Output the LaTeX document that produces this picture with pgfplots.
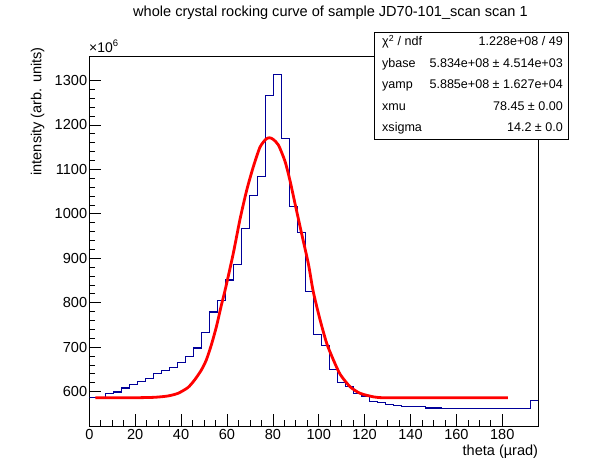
\documentclass[border=0pt]{standalone}
\usepackage{fontspec}
\setmainfont{Liberation Sans}
\usepackage{pgfplots}
\pgfplotsset{compat=1.18}
\definecolor{histblue}{RGB}{0,0,153}
\definecolor{fitred}{RGB}{255,0,0}
\newcommand{\lbl}{\fontsize{14.6}{17}\selectfont}
\newcommand{\stat}{\fontsize{12.6}{14}\selectfont}
\begin{document}
\begin{tikzpicture}[x=1bp,y=1bp]
\useasboundingbox (0,0) rectangle (598,474);
\begin{axis}[
  at={(89.3bp,48bp)}, anchor=south west,
  scale only axis, width=449bp, height=370bp,
  xmin=0, xmax=195.7, ymin=522.4, ymax=1355.1,
  xtick={0,20,...,180}, minor x tick num=3,
  ytick={600,700,...,1300}, minor y tick num=4,
  tick align=inside, tick pos=left,
  major tick length=12bp, minor tick length=6bp,
  tick style={black, line width=0.7bp},
  axis line style={black, line width=0.9bp},
  ticklabel style={font=\lbl},
  yticklabel style={inner xsep=2bp},
  /pgf/number format/assume math mode=true,
  /pgf/number format/1000 sep={},
  clip=true,
]
\addplot[histblue, line width=1.1bp, const plot mark left] coordinates {
(0,586) (3.493,587) (6.986,595) (10.479,599) (13.972,608) (17.465,615)
(20.958,622) (24.451,630) (27.944,640) (31.437,647) (34.93,655) (38.423,665)
(41.916,678) (45.409,698) (48.902,732) (52.395,779) (55.888,804) (59.381,851)
(62.874,885) (66.367,966) (69.86,1042) (73.353,1083) (76.846,1267) (80.339,1314)
(83.832,1170) (87.325,1017) (90.818,957) (94.311,825) (97.804,728) (101.297,703)
(104.79,649) (108.283,620) (111.776,611) (115.269,595) (118.762,590) (122.255,578)
(125.748,575) (129.241,570) (132.734,568) (136.227,566) (139.72,566) (143.213,566)
(146.706,563) (150.199,563) (153.692,561) (157.185,561) (160.678,561) (164.171,561)
(167.664,561) (171.157,561) (174.65,561) (178.143,561) (181.636,561) (185.129,561)
(188.622,561) (192.115,579) (195.7,579)
};
\addplot[fitred, line width=2.8bp, smooth, tension=0.4] coordinates {
(2.6,586) (12,586) (20,586) (28.5,587) (34.3,590) (38.7,596) (43,609) (45.9,626)
(48.8,648) (51,671) (53.2,705) (55.4,746) (57.5,793) (59.5,835) (62.8,912)
(65.7,988) (68.6,1053) (71.5,1106) (74.4,1150) (77,1168) (78.5,1171) (80,1168) (82.4,1155)
(85.3,1118) (87.5,1074) (89.7,1022) (92.6,954) (95.5,887) (97.6,825)
(100.6,761) (103.5,708) (106.4,671) (109.3,639) (113.6,611) (118,596)
(123.8,588) (128.2,586) (140,586) (160,586) (182.4,586)
};
\end{axis}
% title
\node[font=\lbl] at (330.5,461) {whole crystal rocking curve of sample JD70-101\_scan scan 1};
% exponent
\node[font=\fontsize{14}{16}\selectfont, anchor=base west, inner sep=0pt] at (89,421) {×10\raisebox{0.45em}{\fontsize{9.5}{11}\selectfont 6}};
% axis titles
\node[font=\lbl, rotate=90, anchor=east, inner sep=0pt] at (37.7,427) {intensity (arb. units)};
\node[font=\lbl, anchor=east, inner sep=0pt] at (538.3,22) {theta (µrad)};
% stats box
\draw[black, line width=0.9bp, fill=white] (374,442) rectangle (568,335);
\foreach \yy/\a/\b in {431/{χ\textsuperscript{2} / ndf}/{1.228e+08 / 49},
                        409.5/{ybase}/{5.834e+08 ± 4.514e+03},
                        388/{yamp}/{5.885e+08 ± 1.627e+04},
                        366.5/{xmu}/{78.45 ± 0.00},
                        345/{xsigma}/{14.2 ± 0.0}} {
  \node[font=\stat, anchor=mid west, inner sep=0pt] at (382,\yy) {\a};
  \node[font=\stat, anchor=mid east, inner sep=0pt] at (563,\yy) {\b};
}
\end{tikzpicture}
\end{document}
